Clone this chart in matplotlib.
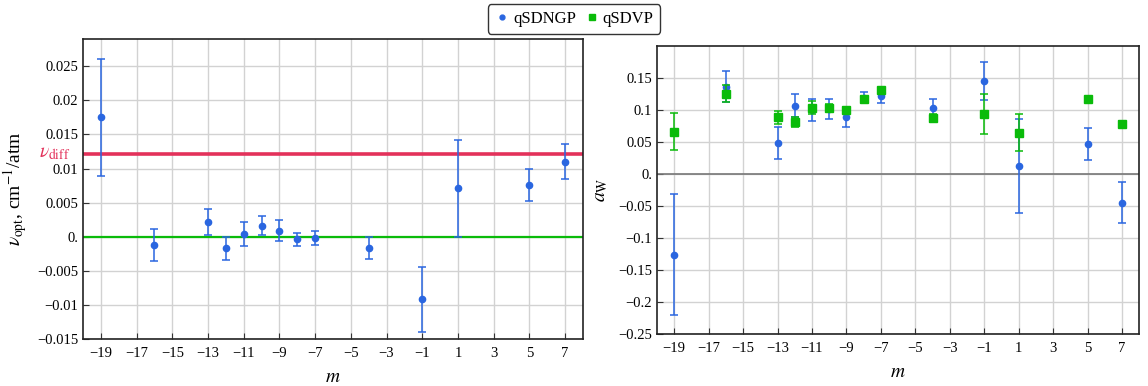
import numpy as np
import matplotlib
matplotlib.use("Agg")
import matplotlib.pyplot as plt
from matplotlib.ticker import FuncFormatter
from matplotlib.transforms import blended_transform_factory

plt.rcParams['font.family'] = ['Liberation Serif', 'DejaVu Serif']
plt.rcParams['mathtext.fontset'] = 'stix'

# harmonic index m for every fitted line
m_vals = [-19, -16, -13, -12, -11, -10, -9, -8, -7, -4, -1, 1, 5, 7]

# qSDNGP pressure shift of the optimum, cm^-1/atm
nu_opt = [0.0175, -0.0012, 0.0021, -0.0017, 0.0004, 0.0016, 0.0009,
          -0.0004, -0.0002, -0.0016, -0.0092, 0.0071, 0.0076, 0.0110]
nu_opt_err = [0.0086, 0.0023, 0.0019, 0.0017, 0.0017, 0.0014, 0.0015,
              0.0009, 0.0010, 0.0016, 0.0048, 0.0071, 0.0023, 0.0026]
nu_diff = 0.0122

# a_W for both profiles
aw_ngp = [-0.126, 0.136, 0.048, 0.106, 0.099, 0.101, 0.089,
          0.119, 0.121, 0.102, 0.145, 0.012, 0.047, -0.045]
aw_ngp_err = [0.095, 0.024, 0.025, 0.018, 0.017, 0.015, 0.016,
              0.009, 0.010, 0.015, 0.030, 0.073, 0.025, 0.032]
aw_vp = [0.066, 0.125, 0.088, 0.081, 0.103, 0.103, 0.099,
         0.117, 0.131, 0.087, 0.093, 0.064, 0.116, 0.078]
aw_vp_err = [0.029, 0.013, 0.010, 0.008, 0.010, 0.006, 0.004,
             0.004, 0.003, 0.006, 0.031, 0.029, 0.003, 0.004]

blue = '#2a66e0'
green = '#0abb0a'
red = '#e3315a'


def mma_fmt(v, pos):
    # Mathematica style labels: "0." for zero, true minus sign
    if abs(v) < 1e-12:
        return '0.'
    s = ('%.3f' % v).rstrip('0').rstrip('.')
    return s.replace('-', '\u2212')


def int_fmt(v, pos):
    return ('%d' % round(v)).replace('-', '\u2212')


def style_axes(ax):
    ax.set_xlim(-20, 8)
    ax.set_xticks(np.arange(-19, 8, 2))
    ax.xaxis.set_major_formatter(FuncFormatter(int_fmt))
    ax.yaxis.set_major_formatter(FuncFormatter(mma_fmt))
    ax.grid(True, color='#d2d2d2', lw=1.0)
    ax.set_axisbelow(True)
    ax.tick_params(direction='in', length=4, labelsize=10.5, color='#333333')
    ax.tick_params(axis='x', pad=6)
    for sp in ax.spines.values():
        sp.set_color('#222222')
        sp.set_linewidth(1.2)
    ax.set_xlabel('$m$', fontsize=14, labelpad=6)


fig = plt.figure(figsize=(11.48, 3.86), dpi=100)
ax1 = fig.add_axes([0.0723, 0.1218, 0.4355, 0.777])
ax2 = fig.add_axes([0.5723, 0.1347, 0.42, 0.747])

# left panel: shift of the optimum
ax1.axhline(0, color=green, lw=1.6, zorder=2)
ax1.axhline(nu_diff, color=red, lw=2.6, zorder=2)
ax1.errorbar(m_vals, nu_opt, yerr=nu_opt_err, fmt='o', color=blue, ms=4.5,
             elinewidth=1.1, capsize=3, capthick=1.1, zorder=3)
ax1.set_ylim(-0.015, 0.029)
ax1.set_yticks(np.arange(-0.015, 0.0251, 0.005))
style_axes(ax1)
ax1.set_ylabel(r'$\nu_{\rm opt}$, cm$^{-1}$/atm', fontsize=14, labelpad=6)
tr = blended_transform_factory(ax1.transAxes, ax1.transData)
ax1.text(-0.025, nu_diff, r'$\nu_{\rm diff}$', color=red, fontsize=14,
         ha='right', va='center', transform=tr)

# right panel: a_W
ax2.axhline(0, color='#777777', lw=1.2, zorder=2)
ax2.errorbar(m_vals, aw_ngp, yerr=aw_ngp_err, fmt='o', color=blue, ms=4.5,
             elinewidth=1.1, capsize=3, capthick=1.1, zorder=3)
ax2.errorbar(m_vals, aw_vp, yerr=aw_vp_err, fmt='s', color=green, ms=6,
             elinewidth=1.1, capsize=3, capthick=1.1, zorder=4)
ax2.set_ylim(-0.25, 0.2)
ax2.set_yticks(np.arange(-0.25, 0.151, 0.05))
style_axes(ax2)
ax2.set_ylabel(r'$a_{\rm W}$', fontsize=14, labelpad=6)

leg_handles = [
    plt.Line2D([], [], marker='o', ls='', color=blue, ms=3.5),
    plt.Line2D([], [], marker='s', ls='', color=green, ms=5),
]
fig.legend(leg_handles, ['qSDNGP', 'qSDVP'], loc='upper center',
           bbox_to_anchor=(0.5, 0.997), ncol=2, fontsize=12, frameon=True,
           fancybox=True, edgecolor='black', handletextpad=0.2,
           columnspacing=0.5, handlelength=0.9, borderpad=0.4,
           borderaxespad=0.2)

fig.savefig('out.png', dpi=100)
